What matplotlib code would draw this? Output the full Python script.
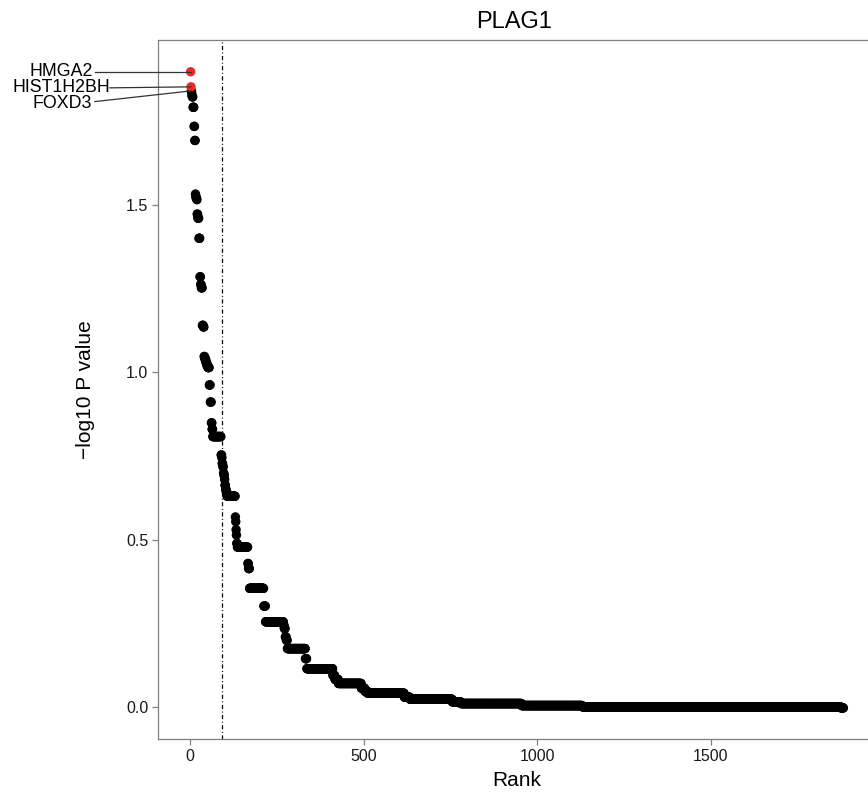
import numpy as np
import matplotlib
matplotlib.use("Agg")
import matplotlib.pyplot as plt

plt.rcParams['font.family'] = ['Liberation Sans', 'DejaVu Sans']
plt.rcParams['lines.scale_dashes'] = False

# -log10 P values, run-length encoded in rank order (level, number of genes)
levels = [1.897, 1.852, 1.840, 1.835, 1.826, 1.822, 1.791, 1.734, 1.692,
          1.532, 1.525, 1.520, 1.515, 1.472, 1.460, 1.400, 1.285, 1.262, 1.252,
          1.140, 1.135, 1.047, 1.040, 1.030, 1.020, 1.014, 0.962, 0.911,
          0.849, 0.830, 0.808, 0.753, 0.745, 0.728, 0.718, 0.700, 0.693, 0.680,
          0.663, 0.650, 0.643, 0.630, 0.568, 0.554, 0.530, 0.514, 0.489, 0.478,
          0.429, 0.414, 0.355, 0.302, 0.255, 0.245, 0.235, 0.210, 0.200, 0.175,
          0.145, 0.115, 0.095, 0.083, 0.071, 0.057, 0.048, 0.042, 0.030, 0.024,
          0.016, 0.011, 0.005, 0.001, -0.002]
counts = [1, 1, 1, 1, 1, 2, 3, 2, 2,
          1, 1, 2, 1, 2, 3, 3, 2, 2, 3,
          3, 2, 2, 3, 3, 3, 4, 3, 3,
          2, 2, 24, 2, 1, 2, 2, 1, 2, 1,
          2, 2, 2, 24, 1, 1, 1, 1, 2, 30,
          2, 3, 41, 5, 52, 2, 3, 3, 3, 52,
          4, 75, 6, 10, 66, 10, 8, 106, 16, 122,
          25, 175, 175, 745, 8]

highlight_genes = ["HMGA2", "HIST1H2BH"]
labelled_genes = ["HMGA2", "HIST1H2BH", "FOXD3"]
labelled_ranks = [1, 2, 3]
cutoff_rank = 92

pval = np.repeat(levels, counts)
rank = np.arange(1, len(pval) + 1)

fig = plt.figure(figsize=(8.68, 7.94), dpi=100)
W, H = 868, 794
ax = fig.add_axes([158 / W, 1 - 739 / H, 718 / W, 699 / H])

colors = ['#E52B2B' if i < len(highlight_genes) else 'black' for i in range(len(pval))]
order = np.arange(len(pval))[::-1]
ax.scatter(rank[order], pval[order], s=46, c=[colors[i] for i in order],
           edgecolors='none', zorder=3)

ax.axvline(cutoff_rank, color='black', lw=0.9, linestyle=(0, (3, 1.8, 0.7, 1.8)), zorder=2)

xmin, xmax = 1 - 0.05 * (len(pval) - 1), len(pval) + 0.05 * (len(pval) - 1)
ax.set_xlim(xmin, xmax)
ymax0 = max(levels)
ax.set_ylim(-0.05 * ymax0, ymax0 * 1.05)

# gene labels (ggrepel-like)
label_text_x = [-282, -232, -285]
label_text_y = [1.897, 1.849, 1.801]
label_line_x0 = [-275, -232, -275]
label_line_y0 = [1.897, 1.849, 1.808]
for g, r, tx, ty, lx, ly in zip(labelled_genes, labelled_ranks, label_text_x,
                                 label_text_y, label_line_x0, label_line_y0):
    ax.plot([lx, rank[r - 1]], [ly, pval[r - 1]], color='#333333', lw=0.9,
            clip_on=False, zorder=4)
    ax.text(tx, ty, g, ha='right', va='center', fontsize=12.8, color='black',
            clip_on=False, zorder=5)

ax.set_xticks([0, 500, 1000, 1500])
ax.set_yticks([0.0, 0.5, 1.0, 1.5])
ax.set_yticklabels(['0.0', '0.5', '1.0', '1.5'])
ax.tick_params(direction='out', length=4, width=0.9, color='#7F7F7F',
               labelsize=11.5, labelcolor='#1a1a1a', pad=3)
for s in ax.spines.values():
    s.set_color('#7F7F7F')
    s.set_linewidth(0.9)

ax.set_xlabel('Rank', fontsize=15, labelpad=5)
ax.set_ylabel('\u2212log10 P value', fontsize=15, labelpad=22)
fig.text((158 + 870) / 2 / W, 1 - 22 / H, 'PLAG1', ha='center', va='center', fontsize=17)

fig.savefig('out.png', dpi=100)
